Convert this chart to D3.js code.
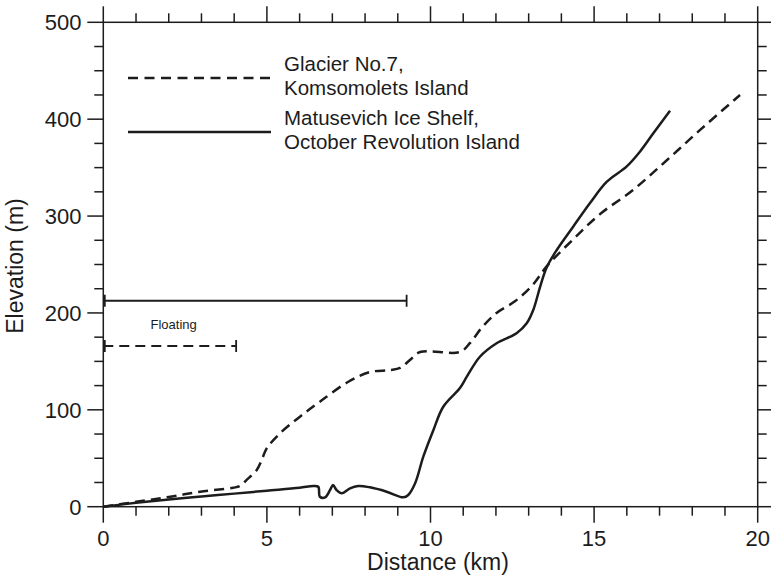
<!DOCTYPE html>
<html>
<head>
<meta charset="utf-8">
<script src="https://cdn.jsdelivr.net/npm/d3@7"></script>
<style>
  html, body { margin: 0; padding: 0; background: #fff; }
  svg { display: block; font-family: "Liberation Sans", Arial, Helvetica, sans-serif; }
</style>
</head>
<body>
<svg id="chart" width="771" height="578"></svg>
<script>
// ---- Data ----
const glacierDist = [0, 1, 2, 2.96, 3.97, 4.18, 4.38, 4.69, 4.84, 4.99, 5.4, 6.01, 6.62, 7.49, 8.15, 8.76, 9.07, 9.37, 9.68, 10.9, 11.21, 11.56, 12.02, 12.58, 13.1, 13.55, 14.36, 15.18, 16.19, 17.23, 18.24, 19.46];
const glacierElev = [0, 5, 10, 15.5, 19.6, 21.4, 27.6, 37.9, 48, 60, 75.7, 92.9, 108.4, 129, 139, 141, 143.2, 151.4, 159.7, 159.7, 169, 184.5, 200, 212, 228, 248, 276, 302, 326.9, 357.9, 388.9, 425];

const shelfDist = [0, 1, 2, 3, 4, 5, 6, 6.42, 6.57, 6.62, 6.78, 6.93, 7.02, 7.13, 7.29, 7.54, 7.79, 8.15, 8.66, 9.17, 9.32, 9.53, 9.78, 10.09, 10.39, 10.9, 11.11, 11.51, 12.02, 12.63, 12.94, 13.14, 13.35, 13.55, 13.86, 14.36, 14.87, 15.39, 15.99, 16.4, 16.81, 17.32];
const shelfElev = [0, 4, 7.5, 10.5, 13.5, 16.5, 19.5, 21.4, 20.6, 10.3, 9.7, 17.2, 22.4, 17.2, 13.8, 19, 21.4, 20, 15.5, 9.7, 12.1, 24.2, 51.6, 79.2, 103.2, 122.5, 134.2, 154.8, 168.7, 179, 189.3, 203, 227, 247, 265, 289, 313.2, 335.5, 351, 366.4, 385.4, 408.8];

// Floating extents: [start km, end km, elevation]
const floatShelf = [0, 9.27, 212.6];
const floatGlacier = [0, 4.06, 165.9];

const legendLabels = [["Glacier No.7,", "Komsomolets Island"], ["Matusevich Ice Shelf,", "October Revolution Island"]];
const xTicks = [0, 5, 10, 15, 20];
const yTicks = [0, 100, 200, 300, 400, 500];
const xMinor = d3.range(0, 21, 1);
const yMinor = d3.range(0, 501, 25);

// ---- Layout ----
const L = 103.3, R = 757.7, T = 22.3, B = 506.7;
const x = d3.scaleLinear().domain([0, 20]).range([L, R]);
const y = d3.scaleLinear().domain([0, 500]).range([B, T]);

const svg = d3.select("#chart");
const ink = "#1c1c1c";
const MAJ = 16, MIN = 9;

// Frame
const axes = svg.append("g").attr("stroke", ink).attr("stroke-width", 1.5).attr("fill", "none");
axes.append("rect").attr("x", L).attr("y", T).attr("width", R - L).attr("height", B - T);

// X ticks (bottom, outward; top, outward)
xMinor.forEach(v => {
  const len = xTicks.includes(v) ? MAJ : MIN;
  axes.append("line").attr("x1", x(v)).attr("x2", x(v)).attr("y1", B).attr("y2", B + len);
  axes.append("line").attr("x1", x(v)).attr("x2", x(v)).attr("y1", T).attr("y2", T - len);
});
// Y ticks (left outward; right outward)
yMinor.forEach(v => {
  const len = yTicks.includes(v) ? MAJ : MIN;
  axes.append("line").attr("x1", L).attr("x2", L - len).attr("y1", y(v)).attr("y2", y(v));
  axes.append("line").attr("x1", R).attr("x2", R + len).attr("y1", y(v)).attr("y2", y(v));
});

// Tick labels
svg.append("g").selectAll("text").data(xTicks).join("text")
  .attr("x", d => x(d)).attr("y", 546).attr("text-anchor", "middle")
  .attr("font-size", 22).attr("fill", ink).text(d => d);
svg.append("g").selectAll("text").data(yTicks).join("text")
  .attr("x", 81.5).attr("y", d => y(d)).attr("dy", "0.36em").attr("text-anchor", "end")
  .attr("font-size", 22).attr("fill", ink).text(d => d);

// Axis titles
svg.append("text").attr("x", 438).attr("y", 570).attr("text-anchor", "middle")
  .attr("font-size", 23).attr("fill", ink).text("Distance (km)");
svg.append("text").attr("transform", "translate(23,266) rotate(-90)").attr("text-anchor", "middle")
  .attr("font-size", 23).attr("fill", ink).text("Elevation (m)");

// Curves
const line = d3.line().x(d => x(d[0])).y(d => y(d[1])).curve(d3.curveCatmullRom.alpha(0.5));
const glacierPts = glacierDist.map((d, i) => [d, glacierElev[i]]);
const shelfPts = shelfDist.map((d, i) => [d, shelfElev[i]]);

svg.append("path").attr("d", line(glacierPts)).attr("fill", "none").attr("stroke", ink)
  .attr("stroke-width", 2.5).attr("stroke-dasharray", "10,6");
svg.append("path").attr("d", line(shelfPts)).attr("fill", "none").attr("stroke", ink)
  .attr("stroke-width", 2.5).attr("stroke-linejoin", "round");

// Floating extents
function extentBar(arr, dashed) {
  const g = svg.append("g").attr("stroke", ink).attr("stroke-width", 2.2).attr("fill", "none");
  g.append("line").attr("x1", x(arr[0])).attr("x2", x(arr[1])).attr("y1", y(arr[2])).attr("y2", y(arr[2]))
    .attr("stroke-dasharray", dashed ? "10,6" : null);
  [arr[0], arr[1]].forEach(v => {
    g.append("line").attr("x1", x(v) + (v === arr[0] ? 1.5 : 0)).attr("x2", x(v) + (v === arr[0] ? 1.5 : 0))
      .attr("y1", y(arr[2]) - 6).attr("y2", y(arr[2]) + 6).attr("stroke-width", 1.8);
  });
}
extentBar(floatShelf, false);
extentBar(floatGlacier, true);
svg.append("text").attr("x", 150.5).attr("y", 328.5).attr("font-size", 13).attr("fill", ink).text("Floating");

// Legend
const legY = [78, 132];
legendLabels.forEach((lines, i) => {
  svg.append("line").attr("x1", 128).attr("x2", 271).attr("y1", legY[i]).attr("y2", legY[i])
    .attr("stroke", ink).attr("stroke-width", 2.5).attr("stroke-dasharray", i === 0 ? "10,6.5" : null);
  lines.forEach((t, j) => {
    svg.append("text").attr("x", 284).attr("y", legY[i] - 7 + j * 23.5)
      .attr("font-size", 20.5).attr("fill", ink).text(t);
  });
});
</script>
</body>
</html>
